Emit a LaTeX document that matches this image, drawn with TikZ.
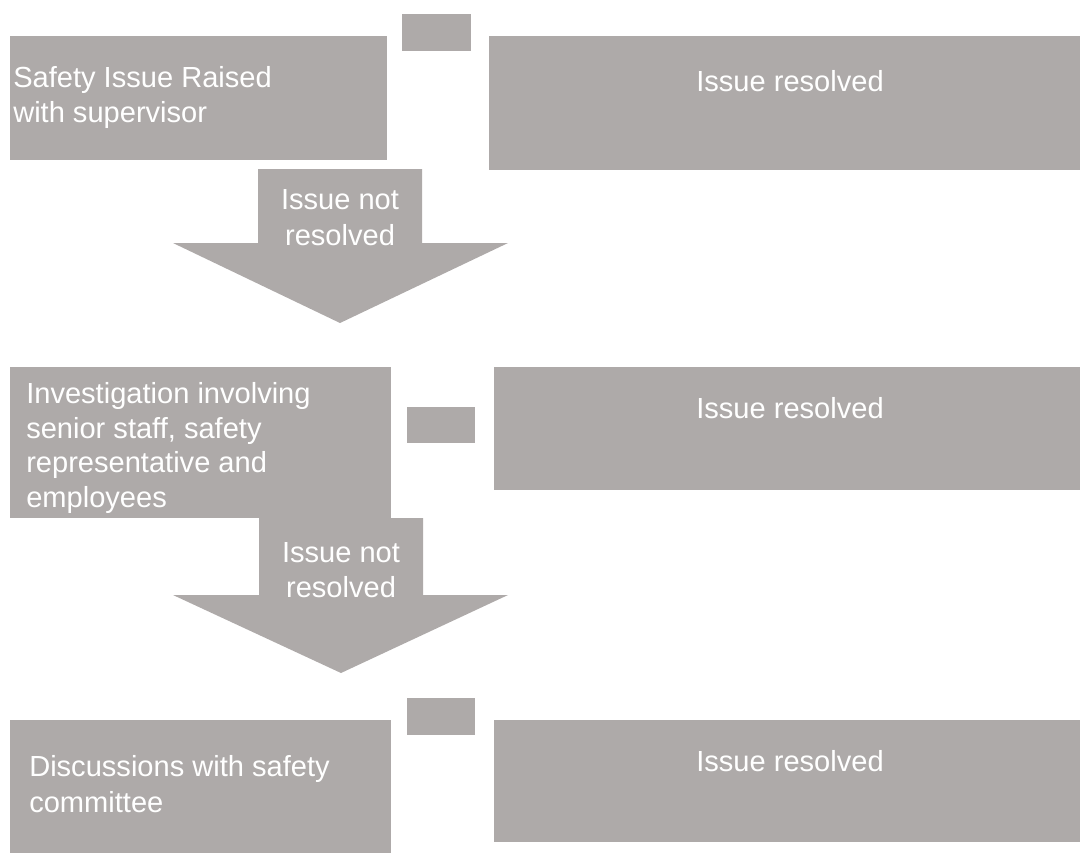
\documentclass[tikz,border=0pt]{standalone}
\usepackage{fontspec}
\setmainfont{Liberation Sans}
\definecolor{gris}{RGB}{174,170,169}

\begin{document}
\begin{tikzpicture}[x=0.75pt, y=-0.75pt,
% Style of the grey shapes
caja/.style={fill=gris, draw=none},
% Style of the white texts
texto/.style={text=white, inner sep=0pt, font=\fontsize{21.8}{25.8}\selectfont},
]
\useasboundingbox (0,0) rectangle (1080,854);

% Boxes
\fill[caja] (402,14) rectangle (471,51);
\fill[caja] (10,36) rectangle (387,160);
\fill[caja] (489,36) rectangle (1080,170);
\fill[caja] (407,407) rectangle (475,443);
\fill[caja] (10,367) rectangle (391,518);
\fill[caja] (494,367) rectangle (1080,490);
\fill[caja] (407,698) rectangle (475,735);
\fill[caja] (10,720) rectangle (391,853);
\fill[caja] (494,720) rectangle (1080,842);

% Block arrows
\fill[caja] (258,169) -- (422,169) -- (422,243) -- (508,243) -- (340,323)
  -- (173,243) -- (258,243) -- cycle;
\fill[caja] (259,518) -- (423,518) -- (423,595) -- (508,595) -- (341,673)
  -- (173,595) -- (259,595) -- cycle;

% Texts (base = baseline of the last line)
\node (raised) at (13,122) [texto, anchor=base west, align=left]
  {Safety Issue Raised\\with supervisor};
\node (res1) at (790,91) [texto, anchor=base]{Issue resolved};
\node (not1) at (340,245) [texto, anchor=base, align=center]
  {Issue not\\[1pt]resolved};
\node (invest) at (26,507) [texto, anchor=base west, align=left]
  {Investigation involving\\senior staff, safety\\representative and\\employees};
\node (res2) at (790,418) [texto, anchor=base]{Issue resolved};
\node (not2) at (341,597) [texto, anchor=base, align=center]
  {Issue not\\resolved};
\node (discuss) at (29,812) [texto, anchor=base west, align=left]
  {Discussions with safety\\[1pt]committee};
\node (res3) at (790,771) [texto, anchor=base]{Issue resolved};
\end{tikzpicture}
\end{document}
